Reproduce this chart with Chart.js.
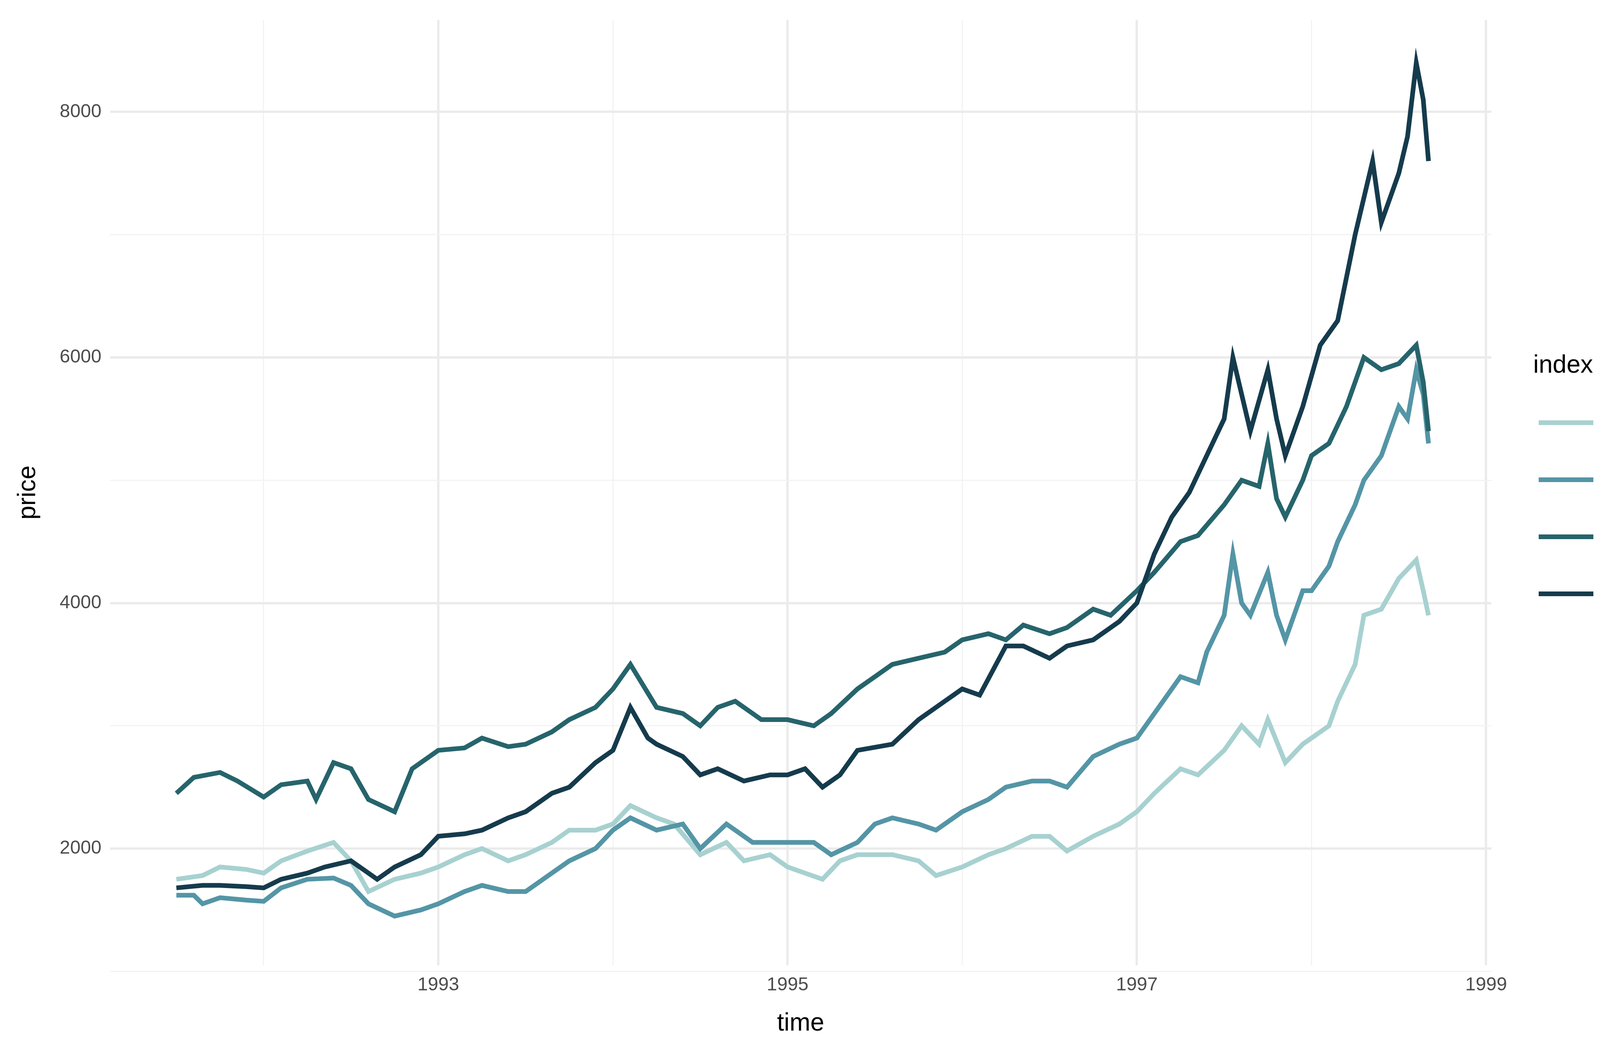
<!DOCTYPE html>
<html><head><meta charset="utf-8">
<script src="https://cdn.jsdelivr.net/npm/chart.js@4"></script>
<style>
html,body{margin:0;background:#fff;font-family:'Liberation Sans',Arial,sans-serif}
#wrap{position:relative;width:4375px;height:2703px}
#cw{position:absolute;left:0;top:0;width:3880px;height:2703px}
#legend{position:absolute;left:3925px;top:895px}
#legend .t{font-size:64px;color:#000;margin-bottom:40px}
#legend .it{display:flex;align-items:center;height:146px}
#legend .sw{width:140px;height:12px;margin:0 36px 0 14px}
#legend .lb{font-size:50px;color:#000}
</style>
</head><body><div id="wrap"><div id="cw"><canvas id="c"></canvas></div><div id="legend"><div class="t">index</div></div></div>
<script>
// values, [time, price]
const cac = [[1991.5,1750],[1991.65,1780],[1991.75,1850],[1991.9,1830],[1992.0,1800],[1992.1,1900],[1992.25,1980],[1992.4,2050],[1992.5,1900],[1992.6,1650],[1992.75,1750],[1992.9,1800],[1993.0,1850],[1993.15,1950],[1993.25,2000],[1993.4,1900],[1993.5,1950],[1993.65,2050],[1993.75,2150],[1993.9,2150],[1994.0,2200],[1994.1,2350],[1994.25,2250],[1994.35,2200],[1994.5,1950],[1994.65,2050],[1994.75,1900],[1994.9,1950],[1995.0,1850],[1995.1,1800],[1995.2,1750],[1995.3,1900],[1995.4,1950],[1995.6,1950],[1995.75,1900],[1995.85,1780],[1996.0,1850],[1996.15,1950],[1996.25,2000],[1996.4,2100],[1996.5,2100],[1996.6,1980],[1996.75,2100],[1996.9,2200],[1997.0,2300],[1997.1,2450],[1997.25,2650],[1997.35,2600],[1997.5,2800],[1997.6,3000],[1997.7,2850],[1997.75,3050],[1997.85,2700],[1997.95,2850],[1998.0,2900],[1998.1,3000],[1998.15,3200],[1998.25,3500],[1998.3,3900],[1998.4,3950],[1998.5,4200],[1998.6,4350],[1998.64,4100],[1998.67,3900]];
const dax = [[1991.5,1620],[1991.6,1620],[1991.65,1550],[1991.75,1600],[1991.9,1580],[1992.0,1570],[1992.1,1680],[1992.25,1750],[1992.4,1760],[1992.5,1700],[1992.6,1550],[1992.75,1450],[1992.9,1500],[1993.0,1550],[1993.15,1650],[1993.25,1700],[1993.4,1650],[1993.5,1650],[1993.65,1800],[1993.75,1900],[1993.9,2000],[1994.0,2150],[1994.1,2250],[1994.25,2150],[1994.4,2200],[1994.5,2000],[1994.65,2200],[1994.8,2050],[1995.0,2050],[1995.15,2050],[1995.25,1950],[1995.4,2050],[1995.5,2200],[1995.6,2250],[1995.75,2200],[1995.85,2150],[1996.0,2300],[1996.15,2400],[1996.25,2500],[1996.4,2550],[1996.5,2550],[1996.6,2500],[1996.75,2750],[1996.9,2850],[1997.0,2900],[1997.15,3200],[1997.25,3400],[1997.35,3350],[1997.4,3600],[1997.5,3900],[1997.55,4400],[1997.6,4000],[1997.65,3900],[1997.75,4250],[1997.8,3900],[1997.85,3700],[1997.95,4100],[1998.0,4100],[1998.1,4300],[1998.15,4500],[1998.25,4800],[1998.3,5000],[1998.4,5200],[1998.5,5600],[1998.55,5500],[1998.6,5900],[1998.64,5700],[1998.67,5300]];
const ftse = [[1991.5,2450],[1991.6,2580],[1991.75,2620],[1991.85,2550],[1992.0,2420],[1992.1,2520],[1992.25,2550],[1992.3,2400],[1992.4,2700],[1992.5,2650],[1992.6,2400],[1992.75,2300],[1992.85,2650],[1993.0,2800],[1993.15,2820],[1993.25,2900],[1993.4,2830],[1993.5,2850],[1993.65,2950],[1993.75,3050],[1993.9,3150],[1994.0,3300],[1994.1,3500],[1994.25,3150],[1994.4,3100],[1994.5,3000],[1994.6,3150],[1994.7,3200],[1994.85,3050],[1995.0,3050],[1995.15,3000],[1995.25,3100],[1995.4,3300],[1995.5,3400],[1995.6,3500],[1995.75,3550],[1995.9,3600],[1996.0,3700],[1996.15,3750],[1996.25,3700],[1996.35,3820],[1996.5,3750],[1996.6,3800],[1996.75,3950],[1996.85,3900],[1997.0,4100],[1997.1,4250],[1997.25,4500],[1997.35,4550],[1997.5,4800],[1997.6,5000],[1997.7,4950],[1997.75,5300],[1997.8,4850],[1997.85,4700],[1997.95,5000],[1998.0,5200],[1998.1,5300],[1998.2,5600],[1998.3,6000],[1998.4,5900],[1998.5,5950],[1998.6,6100],[1998.64,5800],[1998.67,5400]];
const smi = [[1991.5,1680],[1991.65,1700],[1991.75,1700],[1991.9,1690],[1992.0,1680],[1992.1,1750],[1992.25,1800],[1992.35,1850],[1992.5,1900],[1992.6,1800],[1992.65,1750],[1992.75,1850],[1992.9,1950],[1993.0,2100],[1993.15,2120],[1993.25,2150],[1993.4,2250],[1993.5,2300],[1993.65,2450],[1993.75,2500],[1993.9,2700],[1994.0,2800],[1994.1,3150],[1994.2,2900],[1994.25,2850],[1994.4,2750],[1994.5,2600],[1994.6,2650],[1994.75,2550],[1994.9,2600],[1995.0,2600],[1995.1,2650],[1995.2,2500],[1995.3,2600],[1995.4,2800],[1995.6,2850],[1995.75,3050],[1995.9,3200],[1996.0,3300],[1996.1,3250],[1996.25,3650],[1996.35,3650],[1996.5,3550],[1996.6,3650],[1996.75,3700],[1996.9,3850],[1997.0,4000],[1997.1,4400],[1997.2,4700],[1997.3,4900],[1997.4,5200],[1997.5,5500],[1997.55,6000],[1997.65,5400],[1997.75,5900],[1997.8,5500],[1997.85,5200],[1997.95,5600],[1998.05,6100],[1998.15,6300],[1998.25,7000],[1998.35,7600],[1998.4,7100],[1998.45,7300],[1998.5,7500],[1998.55,7800],[1998.6,8400],[1998.64,8100],[1998.67,7600]];
const seriesNames = ['CAC','DAX','FTSE','SMI'];
const seriesData = [cac, dax, ftse, smi];
const colors = ['#a7d1d0','#5495a6','#26646c','#153b4d'];
const xTicks = [1992,1993,1994,1995,1996,1997,1998,1999];
const yTicks = [1000,2000,3000,4000,5000,6000,7000,8000];

// html legend
const leg = document.getElementById('legend');
seriesNames.forEach((n,i)=>{
  const d = document.createElement('div'); d.className='it';
  d.innerHTML = '<div class="sw" style="background:'+colors[i]+'"></div><div class="lb">'+n+'</div>';
  leg.appendChild(d);
});

Chart.defaults.font.family = 'Liberation Sans, Arial, sans-serif';
new Chart(document.getElementById('c'), {
  type:'line',
  data:{datasets: seriesNames.map((n,i)=>({
    label:n, data:seriesData[i].map(p=>({x:p[0],y:p[1]})),
    borderColor:colors[i], backgroundColor:colors[i], borderWidth:12,
    pointRadius:0, tension:0, order:3-i
  }))},
  options:{
    responsive:true, maintainAspectRatio:false, animation:false,
    layout:{padding:{left:30,top:42,right:38,bottom:40}},
    scales:{
      x:{type:'linear', min:1991.12, max:1999.03,
        afterBuildTicks:a=>{a.ticks=xTicks.map(v=>({value:v}));},
        ticks:{color:'#4d4d4d', font:{size:48}, padding:22,
          callback:v=>v%2===1?String(v):''},
        grid:{color:c=>c.tick&&c.tick.value%2===1?'#ebebeb':'#f3f3f3', lineWidth:c=>c.tick&&c.tick.value%2===1?6:3, drawTicks:false},
        border:{display:false},
        title:{display:true,text:'time',color:'#000',font:{size:64},padding:{top:10}}},
      y:{min:1050, max:8750,
        afterBuildTicks:a=>{a.ticks=yTicks.map(v=>({value:v}));},
        ticks:{color:'#4d4d4d', font:{size:48}, padding:22,
          callback:v=>v%2000===0?String(v):''},
        grid:{color:c=>c.tick&&c.tick.value%2000===0?'#ebebeb':'#f3f3f3', lineWidth:c=>c.tick&&c.tick.value%2000===0?6:3, drawTicks:false},
        border:{display:false},
        title:{display:true,text:'price',color:'#000',font:{size:64},padding:{bottom:20}}}
    },
    plugins:{legend:{display:false}, tooltip:{enabled:false}}
  }
});
</script></body></html>
